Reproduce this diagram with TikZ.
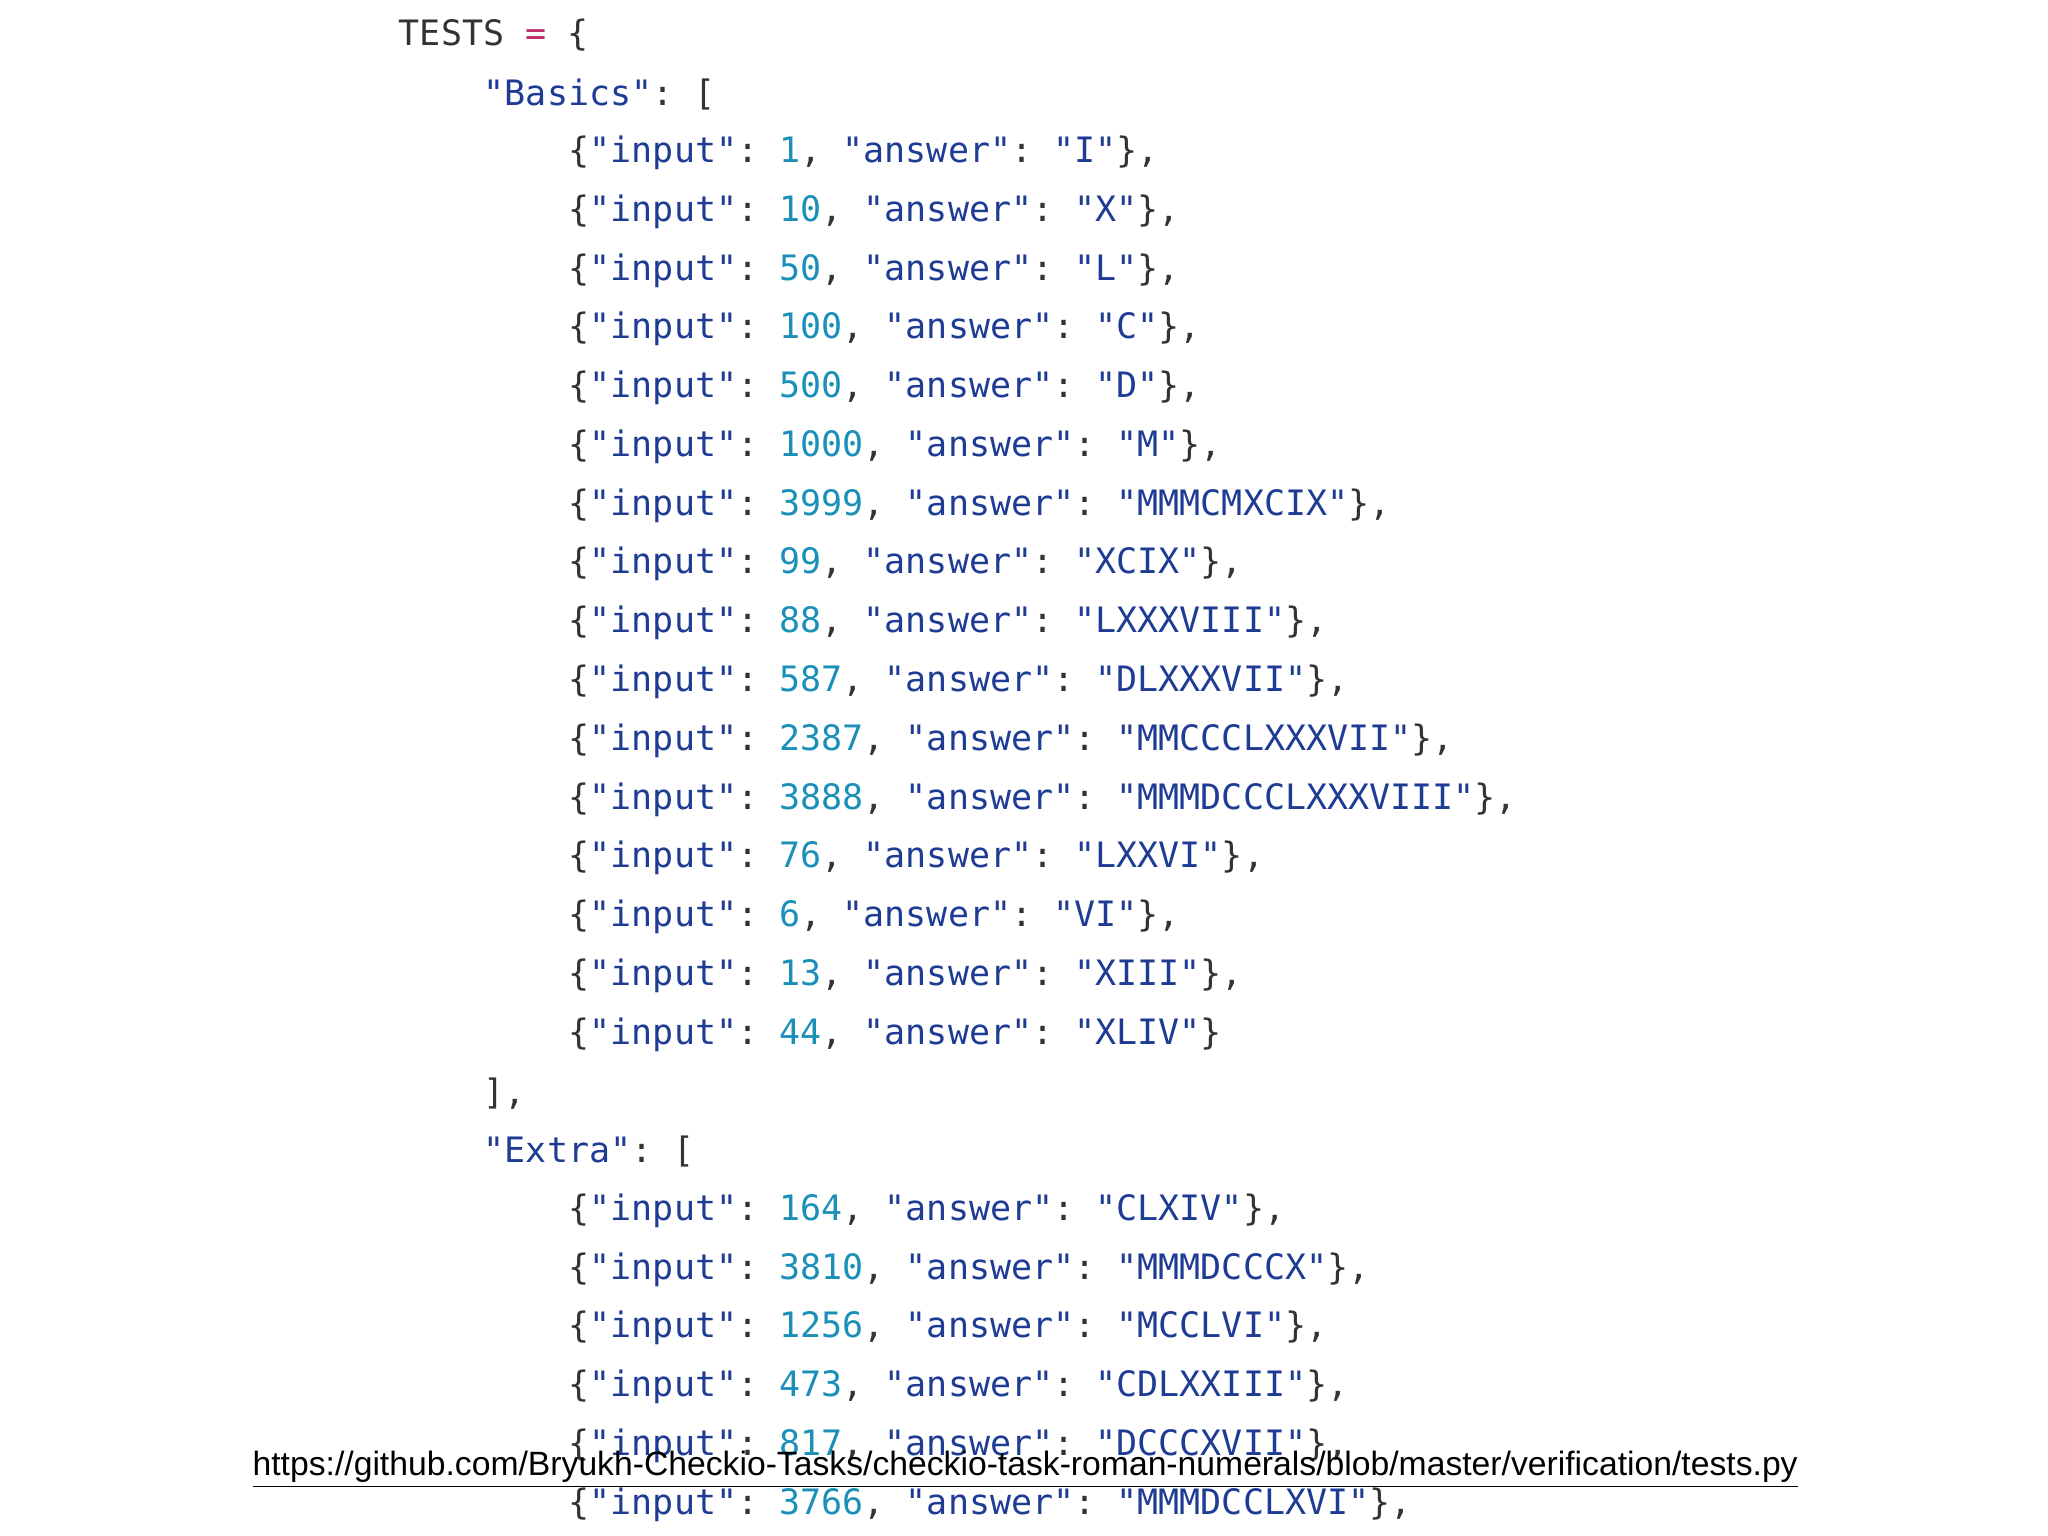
\documentclass[tikz,border=0pt]{standalone}
\usepackage{fontspec}
\setmonofont{DejaVu Sans Mono}
\setmainfont{Liberation Sans}
\usepackage{xcolor}
\definecolor{strc}{HTML}{1F3C95}
\definecolor{numc}{HTML}{1A90B8}
\definecolor{punc}{HTML}{333333}
\definecolor{eqc}{HTML}{C0306A}
\newcommand\Sx[1]{\textcolor{strc}{"#1"}}
\newcommand\Nx[1]{\textcolor{numc}{#1}}
\newcommand\Ex[3]{\{\Sx{input}: \Nx{#1}, \Sx{answer}: \Sx{#2}\}#3}
\tikzset{code/.style={anchor=west,inner sep=0pt,font=\ttfamily\fontsize{13.4pt}{13pt}\selectfont,text=punc}}
\begin{document}
\begin{tikzpicture}[x=0.5pt,y=-0.5pt]
\useasboundingbox (0,0) rectangle (1568,1176);
\fill[white] (0,0) rectangle (1568,1176);
\node[code] (t0) at (305,27) {TESTS \textcolor{eqc}{=} \{};
\node[code] (b0) at (370,72) {\Sx{Basics}: [};
\foreach \n/\a/\i [count=\k] in {1/I/0,10/X/1,50/L/2,100/C/3,500/D/4,1000/M/5,3999/MMMCMXCIX/6,99/XCIX/7,88/LXXXVIII/8,587/DLXXXVII/9,2387/MMCCCLXXXVII/10,3888/MMMDCCCLXXXVIII/11,76/LXXVI/12,6/VI/13,13/XIII/14}
  \node[code] (r\k) at (435,117+45*\i) {\Ex{\n}{\a}{,}};
\node[code] (r16) at (435,792) {\Ex{44}{XLIV}{}};
\node[code] (bc) at (370,837) {],};
\node[code] (e0) at (370,882) {\Sx{Extra}: [};
\foreach \n/\a/\i [count=\k] in {164/CLXIV/0,3810/MMMDCCCX/1,1256/MCCLVI/2,473/CDLXXIII/3,817/DCCCXVII/4,3766/MMMDCCLXVI/5}
  \node[code] (x\k) at (435,927+45*\i) {\Ex{\n}{\a}{,}};
\node[anchor=west,inner sep=0pt,font=\fontsize{12.9pt}{13pt}\selectfont] (url) at (193,1125) {\underline{https://github.com/Bryukh-Checkio-Tasks/checkio-task-roman-numerals/blob/master/verification/tests.py}};
\end{tikzpicture}
\end{document}
